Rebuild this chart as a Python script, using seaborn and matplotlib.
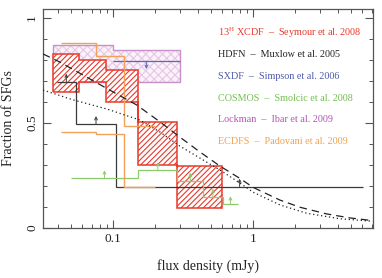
import numpy as np
import matplotlib
matplotlib.use("Agg")
import matplotlib.pyplot as plt
import seaborn as sns

# ---- data ----
# 13H XCDF (Seymour et al. 2008): hatched boxes
xcdf_edges = [0.037, 0.057, 0.089, 0.151, 0.287, 0.595]
xcdf_hi = [0.829, 0.800, 0.752, 0.506, 0.297]
xcdf_lo = [0.648, 0.697, 0.601, 0.300, 0.097]

# Lockman (Ibar et al. 2009): cross-hatched band
lockman_edges = [0.0373, 0.100, 0.300]
lockman_hi = [0.871, 0.846]
lockman_lo = [0.697, 0.697]

# SXDF (Simpson et al. 2006): upper limit
sxdf_edges = [0.099, 0.300]
sxdf_val = [0.795]

# HDFN (Muxlow et al. 2005): lower limits
hdfn_edges = [0.0394, 0.0542, 0.1046, 6.1]
hdfn_val = [0.697, 0.495, 0.197]

# COSMOS (Smolcic et al. 2008): lower limits
cosmos_edges = [0.0496, 0.151, 0.287, 0.439, 0.604, 0.781]
cosmos_val = [0.237, 0.275, 0.225, 0.149, 0.113]

# ECDFS (Padovani et al. 2009): upper / lower lines
ecdfs_edges = [0.0421, 0.0749, 0.1202, 0.1986]
ecdfs_hi = [0.880, 0.820, 0.487]
ecdfs_lo = [0.456, 0.446, 0.197]

# model curves
dash_flux = [0.0315, 0.0416, 0.0577, 0.0897, 0.147, 0.216, 0.299, 0.416,
             0.578, 0.803, 1.0, 1.55, 2.15, 3.34, 4.9, 7.13]
dash_frac = [0.829, 0.790, 0.737, 0.665, 0.586, 0.505, 0.433, 0.362,
             0.295, 0.236, 0.193, 0.133, 0.099, 0.067, 0.048, 0.035]
dot_flux = [0.0315, 0.0518, 0.0897, 0.155, 0.216, 0.299, 0.416, 0.578,
            0.803, 1.0, 1.55, 2.41, 4.16, 7.13]
dot_frac = [0.657, 0.610, 0.567, 0.514, 0.457, 0.390, 0.333, 0.276,
            0.214, 0.170, 0.110, 0.070, 0.044, 0.032]

labels = ["13$^{H}$ XCDF  –  Seymour et al. 2008",
          "HDFN  –  Muxlow et al. 2005",
          "SXDF  –  Simpson et al. 2006",
          "COSMOS  –  Smolcic et al. 2008",
          "Lockman  –  Ibar et al. 2009",
          "ECDFS  –  Padovani et al. 2009"]

RED = "#e8392c"
BLACK = "#3a3a3a"
BLUE = "#5c66b4"
GREEN = "#8ccc6c"
PURPLE = "#c890c8"
ORANGE = "#f2a05a"
label_colors = [RED, "#222222", "#4f5aa8", "#72c050", "#b354b5", "#f0a050"]

sns.set_theme(style="ticks")
plt.rcParams["font.family"] = ["Liberation Serif", "DejaVu Serif"]
plt.rcParams["mathtext.fontset"] = "custom"
plt.rcParams["mathtext.rm"] = "Liberation Serif"
plt.rcParams["mathtext.it"] = "Liberation Serif"
plt.rcParams["mathtext.default"] = "rm"
plt.rcParams["hatch.linewidth"] = 0.8

fig = plt.figure(figsize=(3.82, 2.78), dpi=100)
ax = fig.add_axes([0.1126, 0.1799, 0.8631, 0.7877])
ax.set_xscale("log")


def geo_centers(edges):
    e = np.array(edges)
    return np.sqrt(e[:-1] * e[1:])


# Lockman band
ax.stairs(lockman_hi, lockman_edges, baseline=lockman_lo, fill=True,
          facecolor="#faf1f9", edgecolor="#e6c6e6", hatch="xxxx", lw=0, zorder=1)
ax.stairs(lockman_hi, lockman_edges, baseline=lockman_lo, fill=False,
          color=PURPLE, lw=1.0, zorder=1.5)

# XCDF boxes
ax.stairs(xcdf_hi, xcdf_edges, baseline=xcdf_lo, fill=True,
          facecolor="white", edgecolor=RED, hatch="//////", lw=1.1, zorder=2)

# step lines
ax.stairs(sxdf_val, sxdf_edges, baseline=None, color=BLUE, lw=0.9, zorder=3)
ax.stairs(hdfn_val, hdfn_edges, baseline=None, color=BLACK, lw=0.9, zorder=3)
ax.stairs(cosmos_val, cosmos_edges, baseline=None, color=GREEN, lw=0.9, zorder=3)
ax.stairs(ecdfs_hi, ecdfs_edges, baseline=None, color=ORANGE, lw=1.0, zorder=3)
ax.stairs(ecdfs_lo, ecdfs_edges, baseline=None, color=ORANGE, lw=1.0, zorder=3)


def limit_arrows(edges, vals, color, up=True):
    for xc, v in zip(geo_centers(edges), vals):
        tip = v + 0.038 if up else v - 0.038
        ax.annotate("", xy=(xc, tip), xytext=(xc, v),
                    arrowprops=dict(arrowstyle="->", color=color, lw=0.7,
                                    mutation_scale=5, shrinkA=0, shrinkB=0),
                    zorder=4)


limit_arrows(hdfn_edges, hdfn_val, BLACK)
limit_arrows(cosmos_edges, cosmos_val, GREEN)
limit_arrows(sxdf_edges, sxdf_val, BLUE, up=False)

# model curves
sns.lineplot(x=dash_flux, y=dash_frac, ax=ax, color="#222222", lw=0.9,
             linestyle=(0, (6, 4)), sort=False, zorder=5)
sns.lineplot(x=dot_flux, y=dot_frac, ax=ax, color="#222222", lw=0.9,
             linestyle=(0, (1, 2.2)), sort=False, zorder=5)

# label block
for i, (txt, c) in enumerate(zip(labels, label_colors)):
    ax.text(0.532, 0.89 - i * 0.099, txt, color=c, fontsize=7.3,
            transform=ax.transAxes, ha="left", va="center")

ax.set_xlim(0.0315, 7.13)
ax.set_ylim(0, 1.043)
ax.set_yticks([0, 0.5, 1])
ax.set_yticklabels(["0", "0.5", "1"])
ax.set_yticks(np.arange(0, 1.01, 0.1), minor=True)
ax.set_xticks([0.1, 1])
ax.set_xticklabels(["0.1", "1"])
ax.tick_params(which="both", direction="in", top=True, right=True,
               colors="#555555", labelcolor="#222222", labelsize=9.5)
ax.tick_params(which="major", length=6, width=0.8)
ax.tick_params(which="minor", length=3, width=0.7)
ax.tick_params(axis="y", labelrotation=90)
for lab in ax.get_yticklabels():
    lab.set_va("center")
for s in ax.spines.values():
    s.set_color("#555555")
    s.set_linewidth(0.9)

ax.set_xlabel("flux density (mJy)", fontsize=10, color="#222222", labelpad=10)
ax.set_ylabel("Fraction of SFGs", fontsize=10, color="#222222", labelpad=8)

fig.savefig("out.png", dpi=100)
